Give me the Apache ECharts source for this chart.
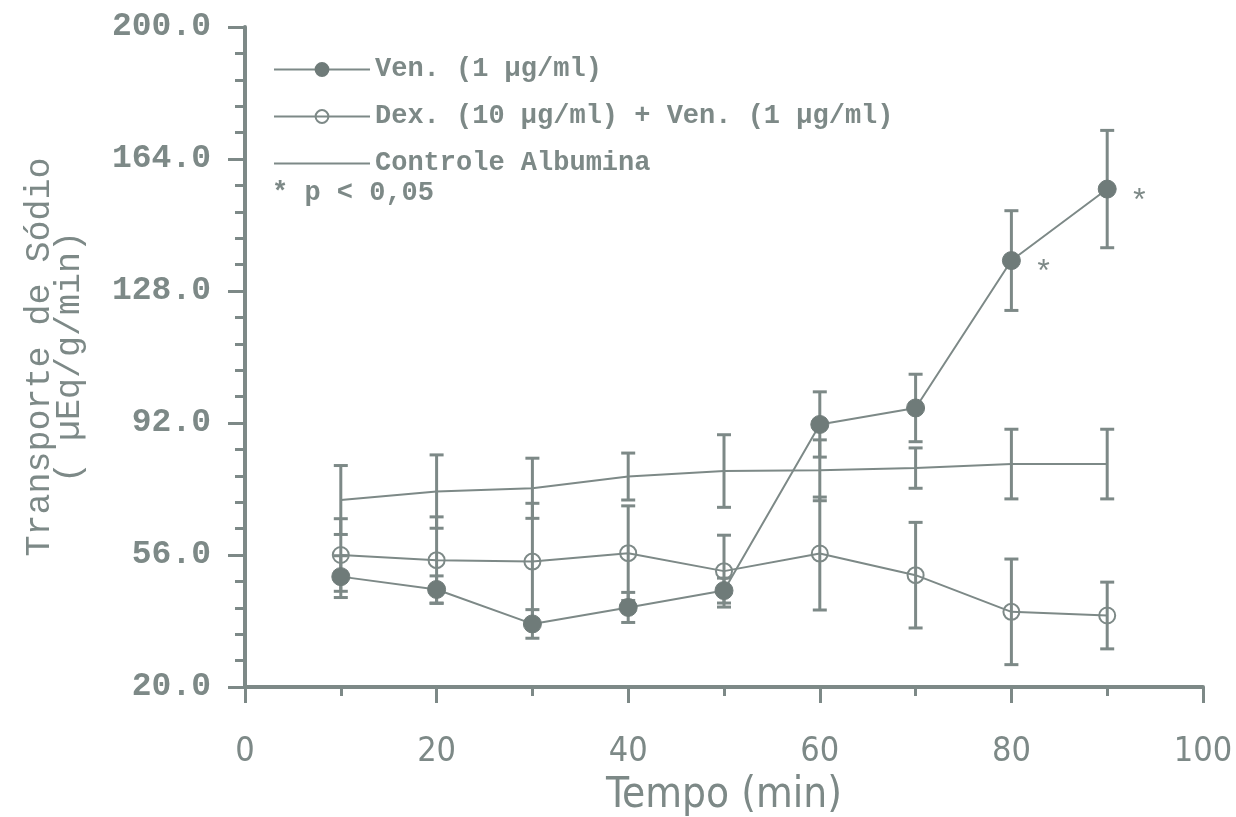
<!DOCTYPE html>
<html>
<head>
<meta charset="utf-8">
<title>Transporte de Sódio</title>
<script src="https://cdn.jsdelivr.net/npm/echarts@6/dist/echarts.min.js"></script>
<style>
  html, body { margin: 0; padding: 0; background: #fff; }
  #lineChart { width: 1236px; height: 817px; }
</style>
</head>
<body>
<div id="lineChart"></div>
<script>
  // tempo (min)
  var tempo = [10, 20, 30, 40, 50, 60, 70, 80, 90];

  // Ven. (1 µg/ml)
  var venMedia = [50.1, 46.6, 37.2, 41.7, 46.3, 91.6, 96.1, 136.3, 155.8];
  var venErro  = [5.7, 3.7, 3.9, 4.1, 3.4, 8.9, 9.2, 13.6, 16.0];

  // Dex. (10 µg/ml) + Ven. (1 µg/ml)
  var dexMedia = [56.0, 54.6, 54.2, 56.5, 51.6, 56.4, 50.5, 40.5, 39.5];
  var dexErro  = [9.9, 11.8, 15.9, 12.9, 9.8, 15.4, 14.4, 14.4, 9.1];

  // Controle Albumina
  var ctrlMedia = [71.0, 73.3, 74.2, 77.4, 78.9, 79.1, 79.7, 80.8, 80.8];
  var ctrlErro  = [9.4, 10.0, 8.2, 6.4, 9.9, 8.3, 5.5, 9.5, 9.5];

  // pontos com * p < 0,05
  var significativo = [80, 90];

  var xTicks = [0, 20, 40, 60, 80, 100];

  var cinza = '#7d8987';
  var cinzaEscuro = '#6f7b79';
  var fonteMono = '"Liberation Mono", "DejaVu Sans Mono", monospace';
  var fonteEstreita = '"Liberation Sans Narrow", "DejaVu Sans Condensed", "Liberation Sans", sans-serif';

  function pontos(media, marcar) {
    var arr = [];
    for (var i = 0; i < tempo.length; i++) {
      var item = { value: [tempo[i], media[i]] };
      if (marcar && significativo.indexOf(tempo[i]) >= 0) {
        item.label = {
          show: true, formatter: '*', position: 'right', distance: 13,
          offset: [0, 13], color: cinza, fontSize: 32, fontFamily: fonteMono
        };
      }
      arr.push(item);
    }
    return arr;
  }

  function barras(media, erro) {
    var arr = [];
    for (var i = 0; i < tempo.length; i++) {
      arr.push([tempo[i], media[i] - erro[i], media[i] + erro[i]]);
    }
    return arr;
  }

  // barra de erro com tampas
  function desenhaErro(params, api) {
    var baixo = api.coord([api.value(0), api.value(1)]);
    var alto = api.coord([api.value(0), api.value(2)]);
    var meia = 7;
    var estilo = { stroke: cinza, lineWidth: 3 };
    return {
      type: 'group',
      children: [
        { type: 'line', shape: { x1: alto[0], y1: alto[1], x2: baixo[0], y2: baixo[1] }, style: estilo },
        { type: 'line', shape: { x1: alto[0] - meia, y1: alto[1], x2: alto[0] + meia, y2: alto[1] }, style: estilo },
        { type: 'line', shape: { x1: baixo[0] - meia, y1: baixo[1], x2: baixo[0] + meia, y2: baixo[1] }, style: estilo }
      ]
    };
  }

  function serieErro(nome, media, erro) {
    return {
      name: nome + ' erro',
      type: 'custom',
      renderItem: desenhaErro,
      data: barras(media, erro),
      encode: { x: 0, y: [1, 2] },
      z: 3,
      silent: true
    };
  }

  var options = {
    animation: false,
    grid: { left: 245, right: 33, top: 27, bottom: 130, outerBoundsMode: 'none' },
    legend: {
      orient: 'vertical',
      left: 268,
      top: 51,
      itemWidth: 96,
      itemHeight: 16,
      itemGap: 20,
      textStyle: { color: cinza, fontSize: 27, fontWeight: 'bold', fontFamily: fonteMono, lineHeight: 24 },
      data: [
        'Ven. (1 µg/ml)',
        'Dex. (10 µg/ml) + Ven. (1 µg/ml)',
        { name: 'Controle Albumina', itemStyle: { opacity: 0 } }
      ]
    },
    graphic: [{
      type: 'text', left: 272, top: 180,
      style: { text: '* p < 0,05', fill: cinza, font: 'bold 27px ' + fonteMono }
    }],
    xAxis: {
      type: 'value', min: 0, max: 100, interval: 20,
      name: 'Tempo (min)', nameLocation: 'middle', nameGap: 88,
      nameTextStyle: { color: cinza, fontSize: 42, fontFamily: fonteEstreita },
      axisLine: { lineStyle: { color: cinza, width: 4 } },
      axisTick: { show: true, inside: false, length: 16, lineStyle: { color: cinza, width: 3 } },
      minorTick: { show: true, splitNumber: 2, length: 9, lineStyle: { color: cinza, width: 3 } },
      axisLabel: {
        margin: 48, color: cinza, fontSize: 34, fontFamily: fonteEstreita,
        customValues: xTicks
      },
      splitLine: { show: false }
    },
    yAxis: {
      type: 'value', min: 20, max: 200, interval: 36,
      name: 'Transporte de Sódio\n( µEq/g/min)', nameLocation: 'middle', nameGap: 160,
      nameTextStyle: { color: cinza, fontSize: 35, fontFamily: fonteMono, lineHeight: 30 },
      axisLine: { lineStyle: { color: cinza, width: 4 } },
      axisTick: { show: true, length: 17, lineStyle: { color: cinza, width: 3 } },
      minorTick: { show: true, splitNumber: 5, length: 10, lineStyle: { color: cinza, width: 3 } },
      axisLabel: {
        margin: 34, color: cinza, fontSize: 33, fontWeight: 'bold', fontFamily: fonteMono,
        formatter: function (v) { return v.toFixed(1); }
      },
      splitLine: { show: false }
    },
    series: [
      serieErro('Controle Albumina', ctrlMedia, ctrlErro),
      serieErro('Dex', dexMedia, dexErro),
      serieErro('Ven', venMedia, venErro),
      {
        name: 'Controle Albumina', type: 'line', data: pontos(ctrlMedia, false),
        showSymbol: false, symbol: 'none',
        lineStyle: { color: cinza, width: 2 }, itemStyle: { color: cinza }, z: 2
      },
      {
        name: 'Dex. (10 µg/ml) + Ven. (1 µg/ml)', type: 'line', data: pontos(dexMedia, false),
        symbol: 'circle', symbolSize: 16,
        lineStyle: { color: cinza, width: 2 },
        itemStyle: { color: 'rgba(255,255,255,0)', borderColor: cinza, borderWidth: 2 }, z: 2
      },
      {
        name: 'Ven. (1 µg/ml)', type: 'line', data: pontos(venMedia, true),
        symbol: 'circle', symbolSize: 18,
        lineStyle: { color: cinza, width: 2 },
        itemStyle: { color: cinzaEscuro, borderColor: cinzaEscuro, borderWidth: 1 }, z: 4
      }
    ]
  };

  var lineChart = echarts.init(document.getElementById('lineChart'));
  lineChart.setOption(options);
</script>
</body>
</html>
